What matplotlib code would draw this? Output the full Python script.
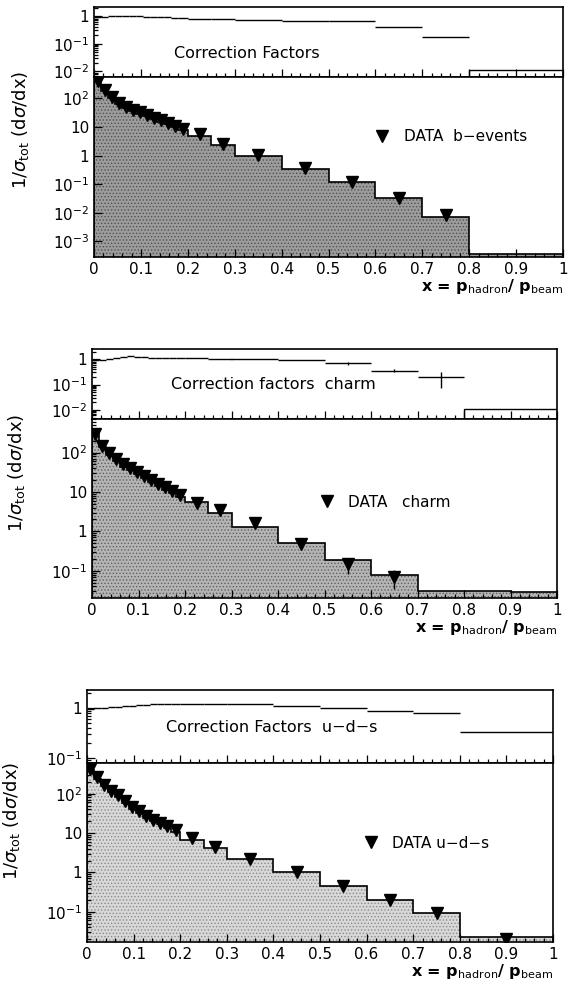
import matplotlib
matplotlib.use('Agg')
import matplotlib.pyplot as plt
from matplotlib.ticker import MultipleLocator, NullFormatter, LogLocator

plt.rcParams['font.family'] = ['DejaVu Sans']
plt.rcParams['hatch.linewidth'] = 0.6

# ---- data (x = p_hadron / p_beam) ----
fine_edges = [0.0, 0.015, 0.03, 0.045, 0.06, 0.075, 0.09, 0.105, 0.12, 0.135, 0.15, 0.165, 0.18, 0.2]
fine_x = [0.0075, 0.0225, 0.0375, 0.0525, 0.0675, 0.0825, 0.0975, 0.1125, 0.1275, 0.1425, 0.1575, 0.1725, 0.19]

# b-events
edges_b = fine_edges + [0.25, 0.3, 0.4, 0.5, 0.6, 0.7, 0.8, 1.0]
hist_b = [480, 175, 100, 62, 45, 36, 29.5, 23.5, 19, 15.5, 12.3, 10, 8,
          4.7, 2.4, 1.0, 0.33, 0.12, 0.032, 0.0073, 0.00036]
x_b = fine_x + [0.225, 0.275, 0.35, 0.45, 0.55, 0.65, 0.75]
y_b = [420, 190, 110, 68, 50, 40, 33, 26, 21, 17, 13.5, 11, 8.8,
       5.5, 2.6, 1.05, 0.36, 0.12, 0.034, 0.0085]
yerr_b = [0] * 20
cf_b = [0.95, 0.95, 0.97, 1.02, 1.0, 0.98, 0.96, 0.94, 0.92, 0.9, 0.88, 0.86, 0.84,
        0.8, 0.77, 0.73, 0.68, 0.63, 0.41, 0.18, 0.011]
cf_err_b = [0] * 21

# charm
edges_c = fine_edges + [0.25, 0.3, 0.4, 0.5, 0.6, 0.7, 0.8, 0.9, 1.0]
hist_c = [290, 135, 85, 60, 44, 35, 28, 22, 17.5, 14, 11.5, 9.3, 7.6,
          5.5, 2.9, 1.26, 0.52, 0.19, 0.079, 0.030, 0.031, 0.029]
x_c = fine_x + [0.225, 0.275, 0.35, 0.45, 0.55, 0.65]
y_c = [300, 150, 95, 68, 50, 40, 32, 25, 20, 16, 13, 10.5, 8.6,
       5.2, 3.5, 1.6, 0.49, 0.15, 0.071]
yerr_c = [0] * 17 + [0.067, 0.036]
cf_c = [0.9, 0.95, 1.05, 1.15, 1.25, 1.3, 1.25, 1.2, 1.15, 1.12, 1.1, 1.1, 1.1,
        1.08, 1.05, 1.02, 0.95, 0.69, 0.35, 0.19, 0.011, 0.011]
cf_err_c = [0] * 17 + [0.08, 0.05, 0.12, 0, 0]

# u-d-s
edges_u = fine_edges + [0.25, 0.3, 0.4, 0.5, 0.6, 0.7, 0.8, 1.0]
hist_u = [400, 240, 155, 108, 80, 57, 41, 32, 24.5, 20, 16.5, 13.8, 10.8,
          6.8, 4.2, 2.2, 1.0, 0.46, 0.2, 0.092, 0.023]
x_u = fine_x + [0.225, 0.275, 0.35, 0.45, 0.55, 0.65, 0.75, 0.9]
y_u = [420, 260, 170, 120, 90, 64, 46, 36, 27, 22, 18.5, 15.5, 12,
       7.6, 4.5, 2.2, 1.0, 0.46, 0.20, 0.091, 0.02]
yerr_u = [0] * 21
cf_u = [0.95, 1.0, 1.03, 1.06, 1.08, 1.1, 1.13, 1.16, 1.19, 1.21, 1.23, 1.24, 1.25,
        1.25, 1.25, 1.2, 1.1, 1.0, 0.9, 0.8, 0.34]
cf_err_u = [0] * 21

xtick_vals = [0, 0.1, 0.2, 0.3, 0.4, 0.5, 0.6, 0.7, 0.8, 0.9, 1.0]
xtick_labels = ['0', '0.1', '0.2', '0.3', '0.4', '0.5', '0.6', '0.7', '0.8', '0.9', '1']

W, H = 569, 986


def style_axis(ax):
    for s in ax.spines.values():
        s.set_linewidth(1.2)
    ax.tick_params(which='both', direction='in', top=False, right=False, width=0.9)
    ax.tick_params(which='major', length=6, labelsize=11)
    ax.tick_params(which='minor', length=3)
    ax.xaxis.set_major_locator(MultipleLocator(0.1))
    ax.xaxis.set_minor_locator(MultipleLocator(0.02))
    ax.yaxis.set_minor_locator(LogLocator(subs=range(2, 10)))
    ax.yaxis.set_minor_formatter(NullFormatter())


def draw_panel(fig, box, edges, hist, xd, yd, yerr, cf, cf_err, n_box,
               strip_lim, strip_ticks, strip_labels, main_lim, main_ticks, main_labels,
               strip_text, strip_text_y, leg_text, leg_pos, fill, hatch_col, ylab_pos):
    left, right, top, split, bottom = box
    # correction factor strip
    ax_s = fig.add_axes([left / W, 1 - split / H, (right - left) / W, (split - top) / H])
    ax_s.set_yscale('log')
    ax_s.set_xlim(0, 1)
    ax_s.set_ylim(*strip_lim)
    style_axis(ax_s)
    ax_s.set_yticks(strip_ticks, labels=strip_labels)
    ax_s.yaxis.set_minor_locator(LogLocator(subs=range(2, 10)))
    ax_s.yaxis.set_minor_formatter(NullFormatter())
    ax_s.tick_params(axis='x', labelbottom=False)
    nb = len(hist) - n_box
    cx = [(edges[i] + edges[i + 1]) / 2 for i in range(nb)]
    hw = [(edges[i + 1] - edges[i]) / 2 for i in range(nb)]
    ax_s.errorbar(cx, cf[:nb], xerr=hw, yerr=cf_err[:nb], fmt='none',
                  ecolor='black', elinewidth=1.0, capsize=0)
    if n_box:
        ax_s.stairs(cf[nb:], edges[nb:], baseline=strip_lim[0], color='black', lw=1.0)
    ax_s.text(0.17, strip_text_y, strip_text, transform=ax_s.transAxes,
              fontsize=11.5, va='center')

    # spectrum
    ax = fig.add_axes([left / W, 1 - bottom / H, (right - left) / W, (bottom - split) / H])
    ax.set_yscale('log')
    ax.set_xlim(0, 1)
    ax.set_ylim(*main_lim)
    ax.stairs(hist, edges, baseline=1e-6, fill=True, facecolor=fill,
              edgecolor=hatch_col, hatch='.....', lw=0)
    ax.stairs(hist, edges, baseline=1e-6, color='black', lw=1.2)
    ax.errorbar(xd, yd, yerr=yerr, fmt='none', ecolor='black', elinewidth=1.0, capsize=0)
    ax.plot(xd, yd, 'v', color='black', ms=8.5, ls='none', label=leg_text)
    style_axis(ax)
    ax.set_yticks(main_ticks, labels=main_labels)
    ax.yaxis.set_minor_locator(LogLocator(subs=range(2, 10)))
    ax.yaxis.set_minor_formatter(NullFormatter())
    ax.set_xticks(xtick_vals, labels=xtick_labels)
    ax.legend(loc='center left', bbox_to_anchor=leg_pos, frameon=False,
              handlelength=0.8, handletextpad=1.0, fontsize=11, borderpad=0)
    ax.set_ylabel(r'1/$\sigma_{\rm tot}$ (d$\sigma$/dx)', fontsize=13)
    ax.yaxis.set_label_coords(*ylab_pos)
    ax.set_xlabel(r'x = p$_{\rm hadron}$/ p$_{\rm beam}$', loc='right', fontsize=11.5,
                  labelpad=0, fontweight='bold')
    return ax


fig = plt.figure(figsize=(W / 100, H / 100), dpi=100)

draw_panel(fig, (94, 563, 7, 77, 257), edges_b, hist_b, x_b, y_b, yerr_b, cf_b, cf_err_b, 1,
           (10 ** -2.2, 10 ** 0.32), [1, 0.1, 0.01], ['1', r'$10^{-1}$', r'$10^{-2}$'],
           (10 ** -3.55, 10 ** 2.75), [100, 10, 1, 0.1, 0.01, 0.001],
           [r'$10^{2}$', '10', '1', r'$10^{-1}$', r'$10^{-2}$', r'$10^{-3}$'],
           'Correction Factors', 0.34, 'DATA  b\u2212events', (0.585, 0.667),
           '#9c9c9c', '#505050', (-0.134, 0.705))

draw_panel(fig, (92, 557, 349, 419, 598), edges_c, hist_c, x_c, y_c, yerr_c, cf_c, cf_err_c, 2,
           (10 ** -2.36, 10 ** 0.4), [1, 0.1, 0.01], ['1', r'$10^{-1}$', r'$10^{-2}$'],
           (10 ** -1.69, 10 ** 2.85), [100, 10, 1, 0.1],
           [r'$10^{2}$', '10', '1', r'$10^{-1}$'],
           'Correction factors  charm', 0.49, 'DATA   charm', (0.475, 0.536),
           '#b4b4b4', '#606060', (-0.14, 0.70))

draw_panel(fig, (87, 553, 690, 763, 942), edges_u, hist_u, x_u, y_u, yerr_u, cf_u, cf_err_u, 0,
           (10 ** -1.1, 10 ** 0.37), [1, 0.1], ['1', r'$10^{-1}$'],
           (10 ** -1.77, 10 ** 2.78), [100, 10, 1, 0.1],
           [r'$10^{2}$', '10', '1', r'$10^{-1}$'],
           'Correction Factors  u\u2212d\u2212s', 0.48, 'DATA u\u2212d\u2212s', (0.58, 0.553),
           '#d8d8d8', '#8a8a8a', (-0.14, 0.676))

fig.savefig('out.png', dpi=100)
